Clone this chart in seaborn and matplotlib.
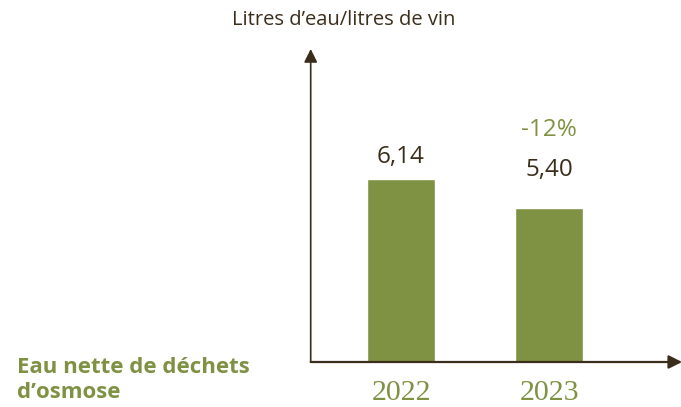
import numpy as np
import pandas as pd
import seaborn as sns
import matplotlib.pyplot as plt

# data
years = ['2022', '2023']
values = [6.14, 5.40]
value_labels = ['6,14', '5,40']
change_label = '-12%'
y_title = 'Litres d\u2019eau/litres de vin'
side_label = 'Eau nette de d\u00e9chets\nd\u2019osmose'

green = '#7f9142'
dark = '#3b2d1b'

sns.set_theme(style='white')
plt.rcParams['font.family'] = ['Open Sans', 'DejaVu Sans']

df = pd.DataFrame({'year': years, 'value': values})

fig = plt.figure(figsize=(6.81, 4.07), dpi=100)
W, H = 681, 407
ax = fig.add_axes([310.7 / W, 45 / H, (W - 310.7) / W, (362 - 49) / H])

sns.barplot(data=df, x='year', y='value', color=green, saturation=1,
            width=0.46, ax=ax)

ax.set_xlim(-0.61, 1.89)
ax.set_ylim(1.47, 9.45)
for s in ax.spines.values():
    s.set_visible(False)
ax.set_yticks([])
ax.set_xticks(range(len(years)), labels=years)
ax.tick_params(axis='x', length=0, pad=13)
for t in ax.get_xticklabels():
    t.set_fontfamily('Liberation Serif')
    t.set_fontsize(21.5)
    t.set_color(green)
ax.set_xlabel('')
ax.set_ylabel('')

# axis arrows
ax.annotate('', xy=(0, 1), xytext=(0, 0), xycoords='axes fraction',
            arrowprops=dict(arrowstyle='-|>', color=dark, lw=1.2,
                            mutation_scale=20, shrinkA=0, shrinkB=0))
ax.annotate('', xy=(1.003, 0), xytext=(0, 0), xycoords='axes fraction',
            arrowprops=dict(arrowstyle='-|>', color=dark, lw=1.6,
                            mutation_scale=20, shrinkA=0, shrinkB=0))

# value labels
offsets = [16, 27]
for i, (v, lab) in enumerate(zip(values, value_labels)):
    ax.annotate(lab, xy=(i, v), xytext=(0, offsets[i]), textcoords='offset points',
                ha='center', va='center', fontsize=17.5, color=dark)
ax.annotate(change_label, xy=(1, values[1]), xytext=(0, 56), textcoords='offset points',
            ha='center', va='center', fontsize=17.5, color=green)

fig.text(344 / W, 1 - 20 / H, y_title, ha='center', va='center', fontsize=14.5, color=dark)
fig.text(17 / W, 1 - 380 / H, side_label, ha='left', va='center', fontsize=16,
         fontweight='bold', color=green, linespacing=1.3)

fig.savefig('out.png', dpi=100)
